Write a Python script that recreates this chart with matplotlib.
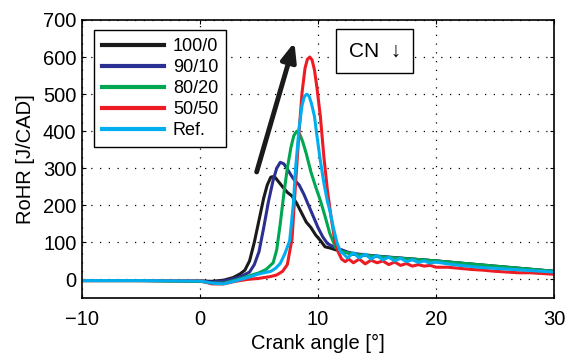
import matplotlib
matplotlib.use("Agg")
import matplotlib.pyplot as plt

plt.rcParams['font.family'] = ['Liberation Sans', 'DejaVu Sans']

# 100/0
x_100 = [-10, -5, 0, 1, 2, 2.8, 3.4, 3.8, 4.2, 4.6, 5.0, 5.4, 5.7, 6.0, 6.3, 6.6, 7.0, 7.4, 7.8, 8.2, 8.6,
         9.0, 9.4, 9.8, 10.2, 10.6, 11.0, 11.5, 12.0, 12.5, 13, 15, 20, 25, 30]
y_100 = [-3, -3, -4, -5, -2, 5, 15, 25, 50, 100, 160, 220, 255, 276, 278, 266, 250, 235, 225, 205, 180,
         155, 140, 120, 105, 88, 85, 80, 77, 72, 68, 62, 50, 35, 22]

# 90/10
x_90 = [-10, -5, 0, 1, 2, 3, 3.6, 4.2, 4.6, 5.0, 5.4, 5.8, 6.2, 6.5, 6.8, 7.1, 7.4, 7.7, 8.0, 8.4, 8.8,
        9.2, 9.6, 10, 10.4, 10.8, 11.2, 11.6, 12, 12.5, 13, 15, 20, 25, 30]
y_90 = [-3, -3, -4, -7, -4, 3, 10, 20, 40, 75, 140, 210, 268, 300, 316, 312, 298, 282, 268, 255, 230,
        200, 170, 140, 115, 97, 90, 84, 80, 74, 70, 63, 50, 36, 22]

# 80/20
x_80 = [-10, -5, 0, 1, 2, 3, 4, 5, 5.6, 6.2, 6.5, 6.8, 7.1, 7.4, 7.7, 7.95, 8.2, 8.45, 8.7, 9.0, 9.4,
        9.8, 10.2, 10.6, 11.0, 11.5, 12, 12.5, 13, 15, 20, 25, 30]
y_80 = [-3, -3, -5, -10, -10, -2, 8, 18, 27, 45, 80, 150, 230, 300, 355, 388, 400, 392, 372, 340, 290,
        250, 213, 170, 124, 86, 76, 72, 68, 62, 50, 36, 22]

# 50/50
x_50 = [-10, -5, 0, 1, 2, 3, 4, 5, 6, 6.5, 7, 7.4, 7.8, 8.1, 8.4, 8.65, 8.9, 9.1, 9.3, 9.5, 9.7, 9.9,
        10.2, 10.5, 10.8, 11.1, 11.4, 11.7, 12.0, 12.3, 12.6, 13, 13.5, 14, 14.5, 15, 15.5, 16,
        16.5, 17, 17.5, 18, 18.5, 19, 19.5, 20, 21, 22, 23, 24, 25, 26, 27, 28, 29, 30]
y_50 = [-3, -3, -3, -12, -12, -5, 0, 3, 8, 12, 22, 40, 110, 260, 400, 505, 570, 594, 600, 592, 565, 520,
        440, 330, 240, 170, 110, 75, 55, 48, 55, 45, 55, 42, 52, 45, 50, 40,
        47, 38, 43, 36, 40, 36, 38, 33, 33, 30, 27, 25, 22, 20, 18, 18, 16, 14]

# Ref.
x_ref = [-10, -5, 0, 1, 2, 3, 4, 5, 6, 6.4, 6.8, 7.2, 7.6, 7.9, 8.1, 8.4, 8.65, 8.85, 9.05, 9.25, 9.45, 9.7,
         9.9, 10.2, 10.5, 10.8, 11.0, 11.3, 11.6, 11.9, 12.2, 12.5, 13, 13.5, 14, 14.5, 15, 15.5,
         16, 16.5, 17, 17.5, 18, 18.5, 19, 19.5, 20, 21, 22, 23, 24, 25, 26, 27, 28, 29, 30]
y_ref = [-3, -3, -4, -10, -12, -4, 5, 15, 22, 30, 43, 70, 105, 200, 300, 410, 470, 494, 500, 494, 474, 440,
         390, 320, 260, 210, 186, 140, 100, 75, 68, 58, 72, 58, 68, 55, 65, 53,
         60, 50, 57, 48, 53, 46, 50, 44, 47, 42, 38, 35, 32, 30, 28, 26, 24, 22, 20]

fig = plt.figure(figsize=(5.66, 3.55), dpi=100)
ax = fig.add_axes([0.1449, 0.1606, 0.8339, 0.7831])

lw = 2.2
ax.plot(x_100, y_100, color='#1a1a1a', lw=lw, label='100/0')
ax.plot(x_90, y_90, color='#2b2f92', lw=lw, label='90/10')
ax.plot(x_80, y_80, color='#00a651', lw=lw, label='80/20')
ax.plot(x_50, y_50, color='#ed1c24', lw=lw, label='50/50')
ax.plot(x_ref, y_ref, color='#00aeef', lw=lw, label='Ref.')

ax.set_xlim(-10, 30)
ax.set_ylim(-50, 700)
ax.set_xticks([-10, 0, 10, 20, 30])
ax.set_xticklabels(['\u221210', '0', '10', '20', '30'])
ax.set_yticks(range(0, 701, 100))
ax.grid(True, linestyle=(0, (1, 6)), color='black', lw=0.9)
ax.tick_params(direction='in', top=True, right=True, labelsize=14.5, length=3)
ax.tick_params(axis='x', pad=9)
ax.tick_params(axis='y', pad=4)
for s in ax.spines.values():
    s.set_linewidth(1.2)

ax.set_xlabel('Crank angle [\u00b0]', fontsize=14.5, labelpad=3)
ax.set_ylabel('RoHR [J/CAD]', fontsize=14.5, labelpad=6)

leg = ax.legend(loc='upper left', bbox_to_anchor=(0.026, 0.964), borderaxespad=0,
                fontsize=13, fancybox=False, framealpha=1, edgecolor='black',
                handlelength=3.4, labelspacing=0.22, handletextpad=0.5, borderpad=0.45)
leg.get_frame().set_linewidth(1.0)
for line in leg.get_lines():
    line.set_linewidth(3.0)

ax.annotate('', xy=(8.0, 640), xytext=(4.8, 290),
            arrowprops=dict(arrowstyle='-|>,head_length=1.1,head_width=0.45', color='#1a1a1a',
                            lw=3.5, shrinkA=0, shrinkB=0))

ax.text(14.8, 617, 'CN  \u2193', fontsize=15, ha='center', va='center',
        bbox=dict(boxstyle='square,pad=0.6', fc='white', ec='black', lw=1.0))

fig.savefig('out.png', dpi=100)
